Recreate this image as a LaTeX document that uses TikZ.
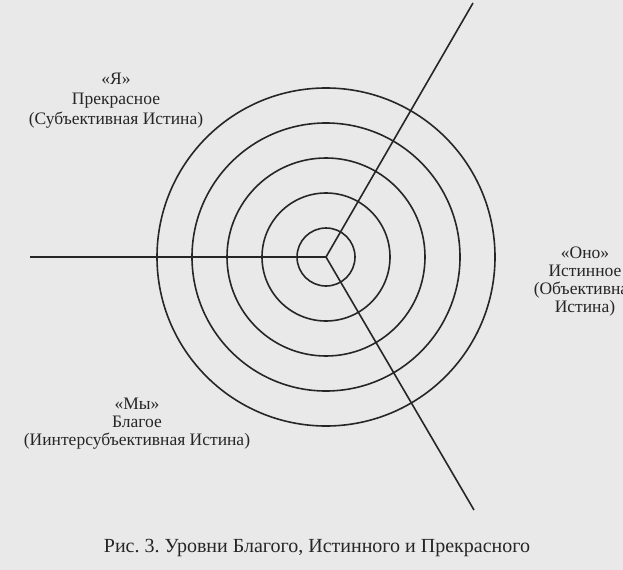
\documentclass[tikz,border=0pt]{standalone}
\usepackage{fontspec}
\setmainfont{Liberation Serif}
\frenchspacing
\definecolor{paper}{RGB}{233,233,233}
\definecolor{ink}{RGB}{38,38,38}
\begin{document}
\begin{tikzpicture}[x=1bp,y=-1bp,
  ring/.style={draw=ink,line width=1.6bp},
  spoke/.style={draw=ink,line width=1.6bp},
  lbl/.style={text=ink,align=center,inner sep=0pt,font=\fontsize{17.5bp}{18bp}\selectfont},
  lblwide/.style={lbl,font=\fontsize{17.5bp}{20bp}\selectfont},
  captext/.style={text=ink,inner sep=0pt,font=\fontsize{20bp}{22bp}\selectfont}]
\fill[paper] (0,0) rectangle (623,570);
\useasboundingbox (0,0) rectangle (623,570);
\coordinate (O) at (326,257);
\coordinate (L) at (30,257);
\coordinate (U) at (473,3);
\coordinate (D) at (474,510);
\foreach \r in {29,64,99,134,169} {\draw[ring] (O) circle[radius=\r];}
\draw[spoke] (L) -- (O) -- (U);
\draw[spoke] (O) -- (D);
\node[lblwide] (ya) at (116,101) {«Я»\\Прекрасное\\(Субъективная Истина)};
\node[lbl] (ono) at (585,282) {«Оно»\\Истинное\\(Объективная\\Истина)};
\node[lbl] (my) at (137,424) {«Мы»\\Благое\\(Иинтерсубъективная Истина)};
\node[captext] (caption) at (317,548) {Рис. 3. Уровни Благого, Истинного и Прекрасного};
\end{tikzpicture}
\end{document}
